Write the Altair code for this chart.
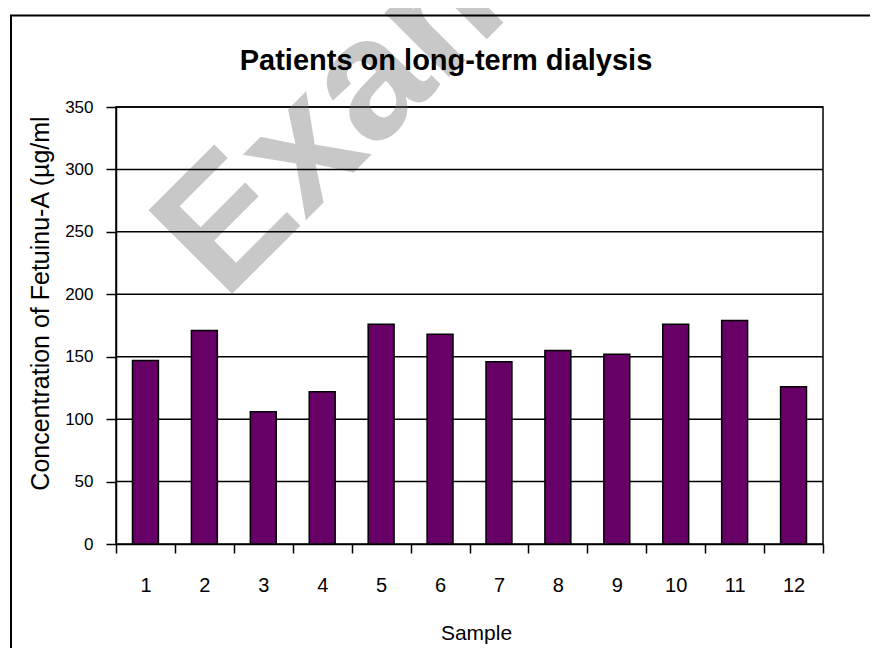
import altair as alt
import pandas as pd

# ---- data ----
samples = ["1", "2", "3", "4", "5", "6", "7", "8", "9", "10", "11", "12"]
values = [147, 171, 106, 122, 176, 168, 146, 155, 152, 176, 179, 126]
y_ticks = [0, 50, 100, 150, 200, 250, 300, 350]
grid_values = [50, 100, 150, 200, 250, 300, 350]

chart_title = "Patients on long-term dialysis"
x_title = "Sample"
y_title = "Concentration of Fetuinu-A (µg/ml"
watermark = "Example"

df = pd.DataFrame({"Sample": samples, "Value": values})
grid_df = pd.DataFrame({"Value": grid_values})
one = pd.DataFrame({"k": [0]})

W, H = 707, 437
FONT = "Liberation Sans"

y_scale = alt.Scale(domain=[0, 350], nice=False, zero=True)
x_scale = alt.Scale(paddingInner=0, paddingOuter=0)

y_axis = alt.Axis(
    title=y_title, values=y_ticks, grid=False,
    tickSize=10, tickWidth=1.5, tickColor="black",
    domainColor="black", domainWidth=1.5,
    labelFontSize=17, labelPadding=13, labelColor="black", labelFont=FONT,
    titleFontSize=25, titleFont=FONT, titleFontWeight="normal", titleColor="black",
    titleBaseline="alphabetic", titleX=-68, titleY=196,
)

x_axis = alt.Axis(
    title=x_title, labelAngle=0, tickBand="extent", grid=False,
    tickSize=9, tickWidth=1.5, tickColor="black",
    domainColor="black", domainWidth=1.5,
    labelFontSize=20, labelPadding=22, labelColor="black", labelFont=FONT,
    titleFontSize=21, titleFont=FONT, titleFontWeight="normal", titleColor="black",
    titleBaseline="alphabetic", titleX=360, titleY=95,
)

wm = alt.Chart(one).mark_text(
    text=watermark, angle=315, fontSize=172, fontWeight="bold", font=FONT,
    color="#c8c8c8", align="left", baseline="alphabetic",
).encode(x=alt.value(108), y=alt.value(195))

frame = alt.Chart(one).mark_rect(
    fillOpacity=0, stroke="black", strokeWidth=2
).encode(x=alt.value(-105), x2=alt.value(820), y=alt.value(-91.5), y2=alt.value(600))

grid = alt.Chart(grid_df).mark_rule(color="black", strokeWidth=1.5).encode(
    y=alt.Y("Value:Q", scale=y_scale, axis=y_axis)
)

bars = alt.Chart(df).mark_bar(
    color="#660066", stroke="black", strokeWidth=1.5,
    width=alt.RelativeBandSize(0.44),
).encode(
    x=alt.X("Sample:O", sort=samples, scale=x_scale, axis=x_axis),
    y=alt.Y("Value:Q", scale=y_scale, axis=y_axis),
)

title_txt = alt.Chart(one).mark_text(
    text=chart_title, fontSize=29, fontWeight="bold", font=FONT,
    color="black", align="center", baseline="alphabetic",
).encode(x=alt.value(330), y=alt.value(-37))

chart = alt.layer(wm, frame, grid, bars, title_txt).properties(
    width=W, height=H,
    padding={"left": 108, "top": 99, "right": 47, "bottom": 104},
    autosize=alt.AutoSizeParams(type="none"),
    background="white",
).configure_view(stroke="black", strokeWidth=1.5)

chart.save("out.html", embed_options={"renderer": "svg", "actions": False})
